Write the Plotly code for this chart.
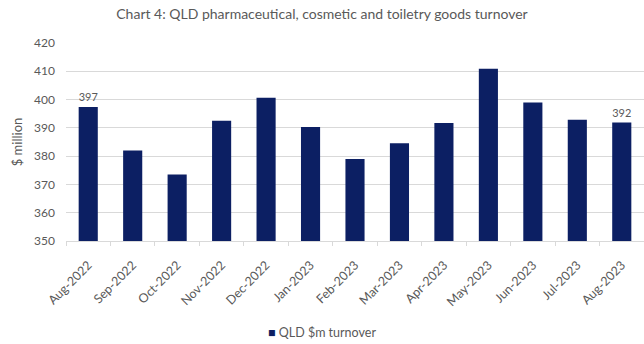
import plotly.graph_objects as go

months = ["Aug-2022", "Sep-2022", "Oct-2022", "Nov-2022", "Dec-2022", "Jan-2023",
          "Feb-2023", "Mar-2023", "Apr-2023", "May-2023", "Jun-2023", "Jul-2023", "Aug-2023"]
turnover = [397.4, 382.0, 373.5, 392.5, 400.6, 390.3, 379.0, 384.6, 391.7, 410.9, 399.0, 392.9, 391.9]
# only the first and latest month carry a value label
labelled = [True] + [False] * 11 + [True]
y_ticks = [350, 360, 370, 380, 390, 400, 410, 420]
series_name = "QLD $m turnover"

BAR = "#0c1f63"
GREY = "#595959"
FONT = "Lato, 'Open Sans', sans-serif"

labels = [f"{v:.0f}" if show else "" for v, show in zip(turnover, labelled)]

fig = go.Figure()
fig.add_trace(go.Bar(
    x=months, y=turnover, name=series_name, showlegend=False,
    marker=dict(color=BAR, line=dict(width=0)),
    text=labels, textposition="outside", cliponaxis=False,
    textfont=dict(color=GREY, size=12, family=FONT),
))

# compact key below the chart: small square swatch right next to the series name
fig.add_annotation(
    text=f"<span style='color:{BAR}'>■</span> {series_name}",
    xref="paper", yref="paper", x=(322 - 66) / 578, y=-(332 - 241) / 198,
    xanchor="center", yanchor="middle", showarrow=False,
    font=dict(size=12.5, color=GREY, family=FONT),
)

fig.update_layout(
    width=644, height=344,
    margin=dict(l=66, r=0, t=43, b=103),
    paper_bgcolor="white", plot_bgcolor="white",
    font=dict(family=FONT, color=GREY, size=12),
    bargap=0.57,
    title=dict(text="Chart 4: QLD pharmaceutical, cosmetic and toiletry goods turnover",
               x=0.5, xref="container", xanchor="center",
               y=1 - 14 / 344, yref="container", yanchor="middle",
               font=dict(size=14, color=GREY, family=FONT)),
    xaxis=dict(range=[-0.5, 12.5], tickangle=-45, showgrid=False,
               showline=True, linecolor="#d9d9d9", linewidth=1,
               ticks="outside", tickson="boundaries", ticklen=4, tickcolor="#d9d9d9",
               ticklabelstandoff=11,
               tickfont=dict(size=12.5, color=GREY, family=FONT)),
    yaxis=dict(range=[350, 420], tickvals=y_ticks, showgrid=True, gridcolor="#d9d9d9",
               zeroline=False, showline=False, ticks="", ticklabelstandoff=10,
               tickfont=dict(size=12, color=GREY, family=FONT),
               title=dict(text="$ million", standoff=8,
                          font=dict(size=13, color=GREY, family=FONT))),
)

fig.write_html("out.html")
